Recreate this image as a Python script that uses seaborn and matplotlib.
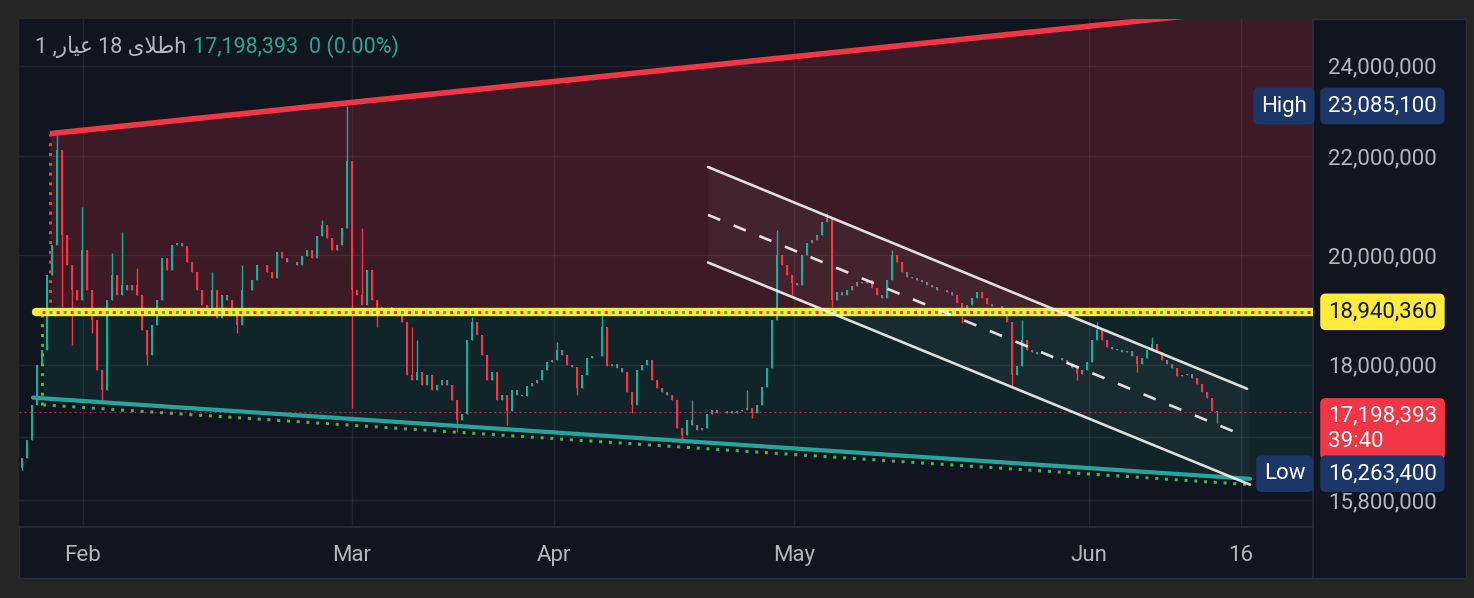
import numpy as np
import matplotlib
matplotlib.use("Agg")
import matplotlib.pyplot as plt
import seaborn as sns
from matplotlib.patches import Rectangle
from matplotlib.lines import Line2D
from matplotlib.ticker import NullLocator

# ------------------------------------------------ data (prices in thousands) ---
closes = [
    16450, 16750, 17320, 18000, 18260, 19630, 20200, 22130, 20400, 19820,
    19350, 19160, 20100, 19350, 18800, 17910, 17570, 19160, 19630, 19250,
    19440, 19350, 19440, 19250, 18620, 18170, 18710, 19160, 19950, 19720,
    20200, 20240, 20180, 19870, 19680, 19350, 19070, 18940, 19350, 18830,
    19250, 19160, 18940, 18710, 19350, 19350, 19530, 19820, 19820, 19680,
    19570, 20070, 19950, 19870, 19870, 19820, 19990, 20100, 19950, 20380,
    20590, 20340, 20100, 20200, 20530, 21900, 19350, 19250, 19070, 19720,
    19160, 18940, 19020, 19030, 18980, 18870, 18760, 17830, 17740, 17880,
    17660, 17830, 17570, 17660, 17740, 17660, 17400, 17070, 17160, 18440,
    18760, 18530, 18170, 17740, 17880, 17400, 17490, 17210, 17570, 17490,
    17470, 17640, 17690, 17740, 17910, 18050, 18090, 18260, 18170, 18000,
    17970, 17610, 17830, 18120, 18160, 18160, 18660, 17980, 18020, 17950,
    17880, 17540, 17320, 17910, 18000, 18090, 17740, 17610, 17540, 17490,
    17400, 16940, 16830, 17070, 16990, 16910, 16940, 17160, 17240, 17190,
    17190, 17210, 17180, 17210, 17240, 17270, 17180, 17320, 17620, 17950,
    18800, 20010, 19820, 19630, 19480, 19440, 20010, 20240, 20300, 20400,
    20650, 20730, 19160, 19310, 19250, 19350, 19420, 19500, 19480, 19530,
    19380, 19250, 19200, 19530, 20010, 19870, 19680, 19590, 19570, 19530,
    19500, 19440, 19400, 19350, 19350, 19310, 19240, 19110, 18940, 19070,
    19200, 19310, 19200, 19090, 19050, 19050, 18980, 18760, 17830, 17980,
    18440, 18260, 18230, 18190, 18190, 18160, 18120, 18120, 18090, 18020,
    17950, 17840, 17910, 18050, 18440, 18620, 18440, 18310, 18280, 18260,
    18230, 18240, 18160, 18020, 18120, 18260, 18360, 18230, 18090, 18020,
    17950, 17810, 17830, 17840, 17780, 17670, 17540, 17440, 17210, 17198.393,
]
first_open = 16300

# wick extremes that stick out of the bodies
wick_hi_bar = [7, 12, 18, 20, 23, 38, 44, 60, 65, 68, 78, 79, 90, 107, 116, 134,
               145, 151, 161, 174, 200, 215, 226]
wick_hi = [22450, 20950, 20050, 20460, 19760, 19680, 19820, 20690, 23085.1, 20530,
           18660, 18440, 18850, 18400, 18870, 17400, 17570, 20500, 20830, 20100,
           18800, 18760, 18490]
wick_lo_bar = [0, 8, 10, 14, 16, 25, 43, 66, 71, 87, 97, 111, 122, 132, 146, 154,
               162, 188, 198, 211, 223, 239]
wick_lo = [16263.4, 19020, 18350, 18560, 17370, 18000, 18560, 17270, 18660, 16880,
           16990, 17490, 17190, 16750, 17110, 19250, 19020, 18740, 17620, 17740,
           17880, 17020]

entry_price = 18940.36
last_price = 17198.393
high_price = 23085.1
low_price = 16263.4
timer_text = "39:40"

# drawings: (bar, price) anchors
resist_bars, resist_prices = [5.6, 258.2], [22480, 25490]
support_bars, support_prices = [2.2, 245.6], [17440, 16130]
support_dot_bars, support_dot_prices = [4.2, 245.6], [17320, 16040]
chan_up_bars, chan_up_prices = [137.2, 245.0], [21770, 17590]
chan_mid_bars, chan_mid_prices = [137.2, 243.6], [20790, 16840]
chan_lo_bars, chan_lo_prices = [137.2, 245.6], [19860, 16040]

month_bars = [12.2, 66.0, 106.4, 154.4, 213.4, 243.8]
month_labels = ["Feb", "Mar", "Apr", "May", "Jun", "16"]
ytick_vals = [15800, 16800, 18000, 20000, 22000, 24000]

# --------------------------------------------------------------- styling ---
BG = "#10151f"
OUTER = "#262626"
TXT = "#b2b5be"
EDGE = "#2a2e39"
UP, DOWN, FLAT = "#22ab94", "#f23645", "#787b86"

sns.set_theme(style="dark", rc={"axes.facecolor": BG, "figure.facecolor": OUTER})
plt.rcParams["font.family"] = ["Roboto", "DejaVu Sans"]


def line_at(x, bars, prices):
    # straight line on the log price axis
    lx = np.log(prices)
    return np.exp(lx[0] + (np.asarray(x) - bars[0]) * (lx[1] - lx[0]) / (bars[1] - bars[0]))


fig = plt.figure(figsize=(14.74, 5.98), dpi=100)
fig.patches.append(Rectangle((19 / 1474, 20 / 598), 1447 / 1474, 559 / 598,
                             transform=fig.transFigure, fc=BG, ec=EDGE, lw=1, zorder=-10))
fig.lines.append(Line2D([1313 / 1474] * 2, [20 / 598, 71 / 598], transform=fig.transFigure,
                        color=EDGE, lw=1.2))
ax = fig.add_axes([19 / 1474, 71 / 598, 1294 / 1474, 508 / 598])
ax.set_facecolor(BG)
ax.set_yscale("log")
ax.set_xlim(-0.6, 258.2)
ax.set_ylim(15400, 25100)

# --- zones of the position tool
xs = np.linspace(resist_bars[0], 258.2, 300)
ax.fill_between(xs, entry_price, line_at(xs, resist_bars, resist_prices),
                color=DOWN, alpha=0.2, lw=0, zorder=1)
xg = np.linspace(4.2, 258.2, 300)
ax.fill_between(xg, line_at(xg, support_bars, support_prices), entry_price,
                color=UP, alpha=0.1, lw=0, zorder=1)

# --- channel fill
xc = np.linspace(137.2, 245.2, 200)
ax.fill_between(xc, line_at(xc, chan_lo_bars, chan_lo_prices),
                line_at(xc, chan_up_bars, chan_up_prices),
                color="white", alpha=0.035, lw=0, zorder=1.5)

# last price line
ax.axhline(last_price, color=DOWN, lw=0.9, alpha=0.7, ls=(0, (1.5, 2.5)), zorder=2)

# --- candles
c = np.array(closes, dtype=float)
o = np.r_[first_open, c[:-1]]
hi = np.maximum(o, c)
lo = np.minimum(o, c)
hi[wick_hi_bar] = np.maximum(hi[wick_hi_bar], wick_hi)
lo[wick_lo_bar] = np.minimum(lo[wick_lo_bar], wick_lo)
chg = (c - o) / o
cols = np.where(np.abs(chg) < 0.005, FLAT, np.where(chg > 0, UP, DOWN))
bars = np.arange(len(c))
ax.vlines(bars, lo, hi, colors=cols, lw=1.0, zorder=4)
ax.bar(bars, c - o, bottom=o, width=0.5, color=cols, lw=0, zorder=4)

# --- trend lines
ax.plot(resist_bars, resist_prices, color=DOWN, lw=4, solid_capstyle="butt", zorder=5)
ax.plot(support_bars, support_prices, color="#26a69a", lw=3, zorder=5)
ax.plot(support_dot_bars, support_dot_prices, color="#4caf50", lw=2.2,
        ls=(0, (1, 2.2)), zorder=5)
ax.plot([resist_bars[0]] * 2, [entry_price, resist_prices[0]], color=DOWN, lw=2.2,
        ls=(0, (1, 2.2)), zorder=5)
ax.plot([4.0, 4.0], [support_dot_prices[0], entry_price], color="#4caf50", lw=2.2,
        ls=(0, (1, 2.2)), zorder=5)

# entry line with red / green dots
ax.plot([2.8, 258.2], [entry_price] * 2, color="#ffeb3b", lw=6, solid_capstyle="round", zorder=5)
ax.plot([4.0, 258.2], [entry_price] * 2, color=DOWN, lw=2.2, ls=(0, (1, 3.6)), zorder=6)
ax.plot([4.0, 258.2], [entry_price] * 2, color="#4caf50", lw=2.2, ls=(2.3, (1, 3.6)), zorder=6)

# channel
ax.plot(chan_up_bars, chan_up_prices, color="white", alpha=0.85, lw=1.9, zorder=6)
ax.plot(chan_lo_bars, chan_lo_prices, color="white", alpha=0.85, lw=1.9, zorder=6)
ax.plot(chan_mid_bars, chan_mid_prices, color="white", alpha=0.85, lw=1.9,
        ls=(0, (5, 5.5)), zorder=6)

# --- axes
ax.yaxis.tick_right()
ax.yaxis.set_minor_locator(NullLocator())
ax.set_yticks(ytick_vals)
ax.set_yticklabels([f"{int(v * 1000):,}" if v != 16800 else "" for v in ytick_vals])
ax.set_xticks(month_bars)
ax.set_xticklabels(month_labels)
ax.tick_params(axis="y", length=0, pad=10.8, labelsize=16, labelcolor=TXT)
ax.tick_params(axis="x", length=0, pad=13, labelsize=16, labelcolor=TXT)
ax.grid(True, color="white", alpha=0.07, lw=1)
ax.set_axisbelow(True)
for side in ["top", "left"]:
    ax.spines[side].set_visible(False)
for side in ["right", "bottom"]:
    ax.spines[side].set_color(EDGE)
    ax.spines[side].set_linewidth(1.2)
ax.set_xlabel("")
ax.set_ylabel("")

# --- legend text
title_vis = "1 ," + "\uFEAD\uFE8E\uFEF4\uFECB" + " 18 " + "\uFEEF\uFEFC\uFEC3" + "h"
ax.text(0.0124, 0.945, title_vis, transform=ax.transAxes, ha="left", va="center",
        fontsize=15.5, color=TXT, family=["Roboto", "DejaVu Sans"])
ax.text(0.1345, 0.945, f"{last_price * 1000:,.0f}  0 (0.00%)", transform=ax.transAxes,
        ha="left", va="center", fontsize=15.5, color=UP)

# --- price labels on the scale
ytr = ax.get_yaxis_transform()
BLUE = "#1c3667"
box = dict(boxstyle="round,pad=0.35,rounding_size=0.25", ec="none")
ax.text(1.0116, high_price, f"{high_price * 1000:,.0f}", transform=ytr, ha="left",
        va="center", fontsize=16, color="white", bbox={**box, "fc": BLUE}, clip_on=False, zorder=10)
ax.text(0.9598, high_price, "High", transform=ytr, ha="left", va="center", fontsize=16,
        color="white", bbox={**box, "fc": BLUE}, clip_on=False, zorder=10)
ax.text(1.0116, entry_price, f"{entry_price * 1000:,.0f}", transform=ytr, ha="left",
        va="center", fontsize=16, color="#131722", bbox={**box, "fc": "#ffeb3b"},
        clip_on=False, zorder=10)
ax.annotate(f"{last_price * 1000:,.0f}\n{timer_text}", xy=(1.0116, last_price), xycoords=ytr,
            xytext=(0, 4.5), textcoords="offset points", ha="left", va="top", fontsize=16,
            color="white", linespacing=1.25, bbox={**box, "fc": DOWN},
            annotation_clip=False, zorder=10)
ax.annotate(f"{low_price * 1000:,.0f}", xy=(1.0116, low_price), xycoords=ytr,
            xytext=(0, -2.5), textcoords="offset points", ha="left", va="center", fontsize=16,
            color="white", bbox={**box, "fc": BLUE}, annotation_clip=False, zorder=11)
ax.annotate("Low", xy=(0.9621, low_price), xycoords=ytr,
            xytext=(0, -2.5), textcoords="offset points", ha="left", va="center", fontsize=16,
            color="white", bbox={**box, "fc": BLUE}, annotation_clip=False, zorder=11)

fig.savefig("out.png", dpi=100, facecolor=OUTER)
